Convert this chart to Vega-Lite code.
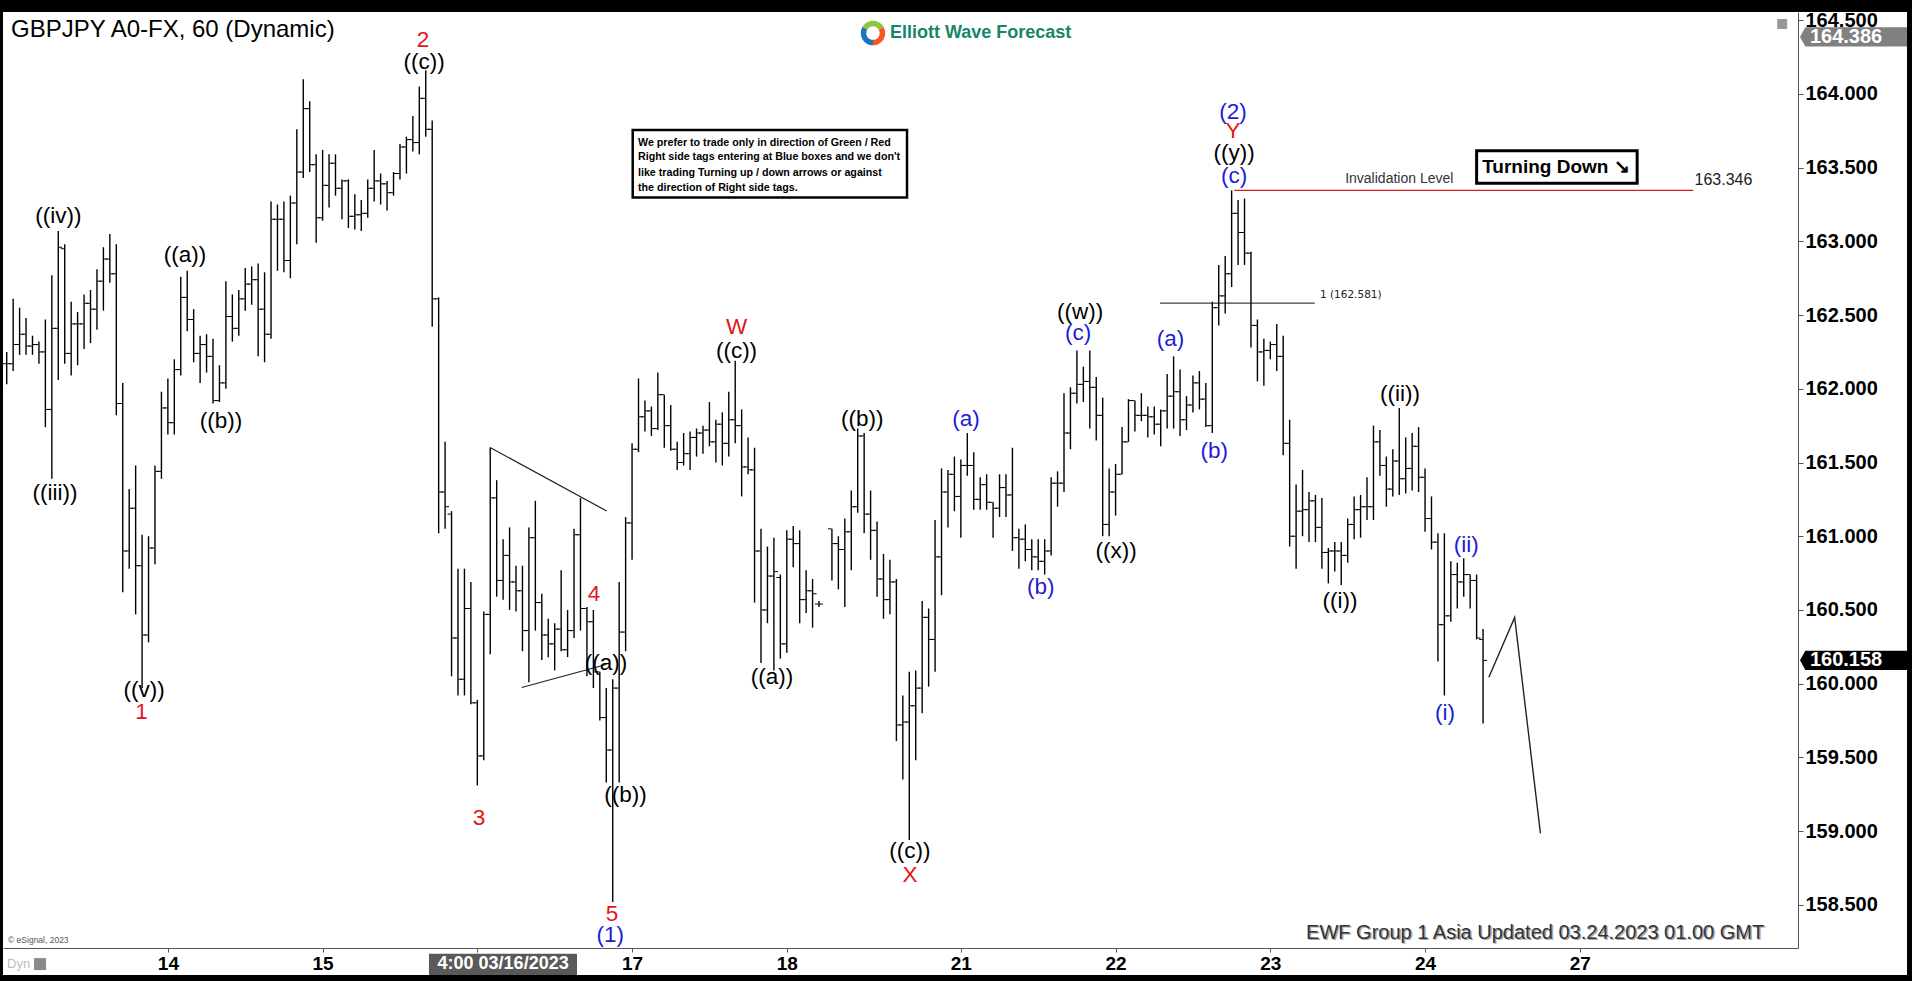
{
"$schema": "https://vega.github.io/schema/vega-lite/v6.json",
"width": 1795, "height": 936,
"autosize": {"type": "none"},
"padding": {"left": 3, "top": 12, "right": 114, "bottom": 33},
"background": "#000000",
"config": {"view": {"stroke": null}, "font": "Liberation Sans"},
"datasets": {
"bars": [
{"t":0,"o":162.17,"h":162.25,"l":162.03,"c":162.17},
{"t":1,"o":162.17,"h":162.61,"l":162.12,"c":162.30},
{"t":2,"o":162.30,"h":162.55,"l":162.23,"c":162.37},
{"t":3,"o":162.37,"h":162.48,"l":162.23,"c":162.29},
{"t":4,"o":162.29,"h":162.36,"l":162.23,"c":162.30},
{"t":5,"o":162.30,"h":162.32,"l":162.17,"c":162.25},
{"t":6,"o":162.25,"h":162.47,"l":161.74,"c":161.86},
{"t":7,"o":161.86,"h":162.77,"l":161.39,"c":162.41},
{"t":8,"o":162.41,"h":163.07,"l":162.06,"c":162.96},
{"t":9,"o":162.95,"h":162.98,"l":162.17,"c":162.24},
{"t":10,"o":162.24,"h":162.59,"l":162.09,"c":162.44},
{"t":11,"o":162.44,"h":162.52,"l":162.16,"c":162.44},
{"t":12,"o":162.44,"h":162.64,"l":162.27,"c":162.58},
{"t":13,"o":162.58,"h":162.67,"l":162.31,"c":162.54},
{"t":14,"o":162.54,"h":162.81,"l":162.40,"c":162.73},
{"t":15,"o":162.73,"h":162.96,"l":162.53,"c":162.88},
{"t":16,"o":162.88,"h":163.05,"l":162.72,"c":162.78},
{"t":17,"o":162.78,"h":162.98,"l":161.82,"c":161.90},
{"t":18,"o":161.90,"h":162.04,"l":160.62,"c":160.90},
{"t":19,"o":160.90,"h":161.32,"l":160.78,"c":161.19},
{"t":20,"o":161.19,"h":161.48,"l":160.47,"c":160.80},
{"t":21,"o":160.80,"h":161.01,"l":159.97,"c":160.33},
{"t":22,"o":160.33,"h":161.00,"l":160.28,"c":160.92},
{"t":23,"o":160.92,"h":161.48,"l":160.81,"c":161.44},
{"t":24,"o":161.44,"h":161.98,"l":161.39,"c":161.87},
{"t":25,"o":161.87,"h":162.07,"l":161.69,"c":161.77},
{"t":26,"o":161.77,"h":162.20,"l":161.69,"c":162.13},
{"t":27,"o":162.13,"h":162.76,"l":162.09,"c":162.62},
{"t":28,"o":162.62,"h":162.80,"l":162.39,"c":162.47},
{"t":29,"o":162.47,"h":162.54,"l":162.18,"c":162.24},
{"t":30,"o":162.24,"h":162.36,"l":162.04,"c":162.30},
{"t":31,"o":162.30,"h":162.37,"l":162.11,"c":162.22},
{"t":32,"o":162.22,"h":162.34,"l":161.90,"c":161.92},
{"t":33,"o":161.92,"h":162.16,"l":161.91,"c":162.04},
{"t":34,"o":162.04,"h":162.73,"l":162.00,"c":162.49},
{"t":35,"o":162.49,"h":162.64,"l":162.32,"c":162.41},
{"t":36,"o":162.41,"h":162.67,"l":162.36,"c":162.61},
{"t":37,"o":162.61,"h":162.82,"l":162.53,"c":162.71},
{"t":38,"o":162.71,"h":162.83,"l":162.57,"c":162.74},
{"t":39,"o":162.74,"h":162.85,"l":162.22,"c":162.54},
{"t":40,"o":162.54,"h":162.79,"l":162.18,"c":162.37},
{"t":41,"o":162.37,"h":163.27,"l":162.34,"c":163.15},
{"t":42,"o":163.15,"h":163.25,"l":162.80,"c":163.15},
{"t":43,"o":163.15,"h":163.27,"l":162.79,"c":162.87},
{"t":44,"o":162.87,"h":163.31,"l":162.75,"c":163.26},
{"t":45,"o":163.26,"h":163.76,"l":162.98,"c":163.47},
{"t":46,"o":163.47,"h":164.10,"l":163.43,"c":163.90},
{"t":47,"o":163.90,"h":163.95,"l":163.47,"c":163.52},
{"t":48,"o":163.52,"h":163.59,"l":162.99,"c":163.16},
{"t":49,"o":163.16,"h":163.62,"l":163.14,"c":163.38},
{"t":50,"o":163.38,"h":163.59,"l":163.23,"c":163.53},
{"t":51,"o":163.53,"h":163.59,"l":163.31,"c":163.36},
{"t":52,"o":163.36,"h":163.42,"l":163.15,"c":163.41},
{"t":53,"o":163.41,"h":163.42,"l":163.09,"c":163.17},
{"t":54,"o":163.17,"h":163.32,"l":163.08,"c":163.18},
{"t":55,"o":163.18,"h":163.28,"l":163.07,"c":163.19},
{"t":56,"o":163.19,"h":163.42,"l":163.16,"c":163.36},
{"t":57,"o":163.36,"h":163.62,"l":163.27,"c":163.41},
{"t":58,"o":163.41,"h":163.46,"l":163.25,"c":163.39},
{"t":59,"o":163.39,"h":163.41,"l":163.21,"c":163.33},
{"t":60,"o":163.33,"h":163.47,"l":163.31,"c":163.46},
{"t":61,"o":163.46,"h":163.66,"l":163.42,"c":163.64},
{"t":62,"o":163.64,"h":163.71,"l":163.46,"c":163.69},
{"t":63,"o":163.69,"h":163.85,"l":163.61,"c":163.67},
{"t":64,"o":163.67,"h":164.05,"l":163.59,"c":163.97},
{"t":65,"o":163.97,"h":164.16,"l":163.71,"c":163.76},
{"t":66,"o":163.76,"h":163.82,"l":162.42,"c":162.61},
{"t":67,"o":162.61,"h":162.62,"l":161.02,"c":161.30},
{"t":68,"o":161.30,"h":161.64,"l":161.05,"c":161.20},
{"t":69,"o":161.15,"h":161.17,"l":160.05,"c":160.31},
{"t":70,"o":160.31,"h":160.78,"l":159.92,"c":160.03},
{"t":71,"o":160.03,"h":160.78,"l":159.92,"c":160.51},
{"t":72,"o":160.51,"h":160.69,"l":159.86,"c":159.87},
{"t":73,"o":159.87,"h":159.89,"l":159.31,"c":159.51},
{"t":74,"o":159.51,"h":160.49,"l":159.48,"c":160.47},
{"t":75,"o":160.47,"h":161.60,"l":160.20,"c":161.26},
{"t":76,"o":161.26,"h":161.38,"l":160.59,"c":160.70},
{"t":77,"o":160.70,"h":160.98,"l":160.57,"c":160.87},
{"t":78,"o":160.87,"h":161.06,"l":160.50,"c":160.69},
{"t":79,"o":160.69,"h":160.80,"l":160.49,"c":160.63},
{"t":80,"o":160.63,"h":160.80,"l":160.22,"c":160.36},
{"t":81,"o":160.36,"h":161.06,"l":160.01,"c":160.99},
{"t":82,"o":160.99,"h":161.24,"l":160.36,"c":160.55},
{"t":83,"o":160.55,"h":160.61,"l":160.16,"c":160.33},
{"t":84,"o":160.33,"h":160.44,"l":160.18,"c":160.27},
{"t":85,"o":160.27,"h":160.41,"l":160.09,"c":160.37},
{"t":86,"o":160.37,"h":160.77,"l":160.22,"c":160.23},
{"t":87,"o":160.23,"h":160.50,"l":160.18,"c":160.36},
{"t":88,"o":160.36,"h":161.05,"l":160.31,"c":161.01},
{"t":89,"o":161.01,"h":161.26,"l":160.36,"c":160.51},
{"t":90,"o":160.51,"h":160.52,"l":160.05,"c":160.42},
{"t":91,"o":160.42,"h":160.50,"l":159.97,"c":160.08},
{"t":92,"o":160.08,"h":160.08,"l":159.75,"c":159.77},
{"t":93,"o":159.77,"h":159.97,"l":159.33,"c":159.55},
{"t":94,"o":159.55,"h":160.03,"l":158.52,"c":159.97},
{"t":95,"o":159.97,"h":160.69,"l":159.33,"c":160.35},
{"t":96,"o":160.35,"h":161.13,"l":160.22,"c":161.09},
{"t":97,"o":161.09,"h":161.63,"l":160.84,"c":161.59},
{"t":98,"o":161.59,"h":162.07,"l":161.57,"c":161.81},
{"t":99,"o":161.81,"h":161.92,"l":161.71,"c":161.85},
{"t":100,"o":161.85,"h":161.88,"l":161.68,"c":161.73},
{"t":101,"o":161.73,"h":162.11,"l":161.72,"c":161.96},
{"t":102,"o":161.96,"h":161.96,"l":161.60,"c":161.75},
{"t":103,"o":161.75,"h":161.89,"l":161.58,"c":161.59},
{"t":104,"o":161.59,"h":161.64,"l":161.45,"c":161.50},
{"t":105,"o":161.50,"h":161.70,"l":161.48,"c":161.56},
{"t":106,"o":161.56,"h":161.71,"l":161.45,"c":161.67},
{"t":107,"o":161.67,"h":161.73,"l":161.54,"c":161.70},
{"t":108,"o":161.70,"h":161.75,"l":161.56,"c":161.72},
{"t":109,"o":161.72,"h":161.91,"l":161.61,"c":161.64},
{"t":110,"o":161.64,"h":161.79,"l":161.50,"c":161.76},
{"t":111,"o":161.76,"h":161.84,"l":161.48,"c":161.63},
{"t":112,"o":161.63,"h":161.98,"l":161.54,"c":161.79},
{"t":113,"o":161.79,"h":162.19,"l":161.63,"c":161.75},
{"t":114,"o":161.75,"h":161.86,"l":161.27,"c":161.47},
{"t":115,"o":161.47,"h":161.67,"l":161.42,"c":161.45},
{"t":116,"o":161.45,"h":161.60,"l":160.55,"c":160.90},
{"t":117,"o":160.90,"h":161.05,"l":160.14,"c":160.50},
{"t":118,"o":160.50,"h":160.93,"l":160.41,"c":160.73},
{"t":119,"o":160.73,"h":160.99,"l":160.09,"c":160.76},
{"t":120,"o":160.72,"h":160.74,"l":160.17,"c":160.27},
{"t":121,"o":160.27,"h":161.04,"l":160.21,"c":160.98},
{"t":122,"o":160.98,"h":161.07,"l":160.79,"c":160.95},
{"t":123,"o":160.95,"h":161.04,"l":160.41,"c":160.57},
{"t":124,"o":160.57,"h":160.77,"l":160.48,"c":160.63},
{"t":125,"o":160.63,"h":160.71,"l":160.38,"c":160.61},
{"t":126,"o":160.54,"h":160.56,"l":160.52,"c":160.54},
{"t":128,"o":161.05,"h":161.05,"l":160.70,"c":160.95},
{"t":129,"o":160.95,"h":161.00,"l":160.64,"c":160.91},
{"t":130,"o":160.91,"h":161.12,"l":160.52,"c":161.03},
{"t":131,"o":161.03,"h":161.31,"l":160.77,"c":161.20},
{"t":132,"o":161.20,"h":161.73,"l":161.16,"c":161.68},
{"t":133,"o":161.68,"h":161.70,"l":161.02,"c":161.15},
{"t":134,"o":161.15,"h":161.31,"l":160.84,"c":161.04},
{"t":135,"o":161.04,"h":161.10,"l":160.59,"c":160.71},
{"t":136,"o":160.71,"h":160.88,"l":160.44,"c":160.57},
{"t":137,"o":160.57,"h":160.84,"l":160.47,"c":160.69},
{"t":138,"o":160.69,"h":160.71,"l":159.61,"c":159.72},
{"t":139,"o":159.72,"h":159.92,"l":159.35,"c":159.74},
{"t":140,"o":159.74,"h":160.08,"l":158.94,"c":159.85},
{"t":141,"o":159.85,"h":160.09,"l":159.48,"c":159.97},
{"t":142,"o":159.97,"h":160.56,"l":159.80,"c":160.45},
{"t":143,"o":160.45,"h":160.51,"l":159.98,"c":160.30},
{"t":144,"o":160.30,"h":161.11,"l":160.08,"c":160.86},
{"t":145,"o":160.86,"h":161.46,"l":160.60,"c":161.30},
{"t":146,"o":161.30,"h":161.45,"l":161.06,"c":161.42},
{"t":147,"o":161.42,"h":161.54,"l":161.17,"c":161.27},
{"t":148,"o":161.27,"h":161.52,"l":160.99,"c":161.48},
{"t":149,"o":161.48,"h":161.70,"l":161.41,"c":161.48},
{"t":150,"o":161.48,"h":161.57,"l":161.18,"c":161.25},
{"t":151,"o":161.25,"h":161.40,"l":161.18,"c":161.35},
{"t":152,"o":161.35,"h":161.42,"l":161.18,"c":161.23},
{"t":153,"o":161.23,"h":161.23,"l":160.99,"c":161.19},
{"t":154,"o":161.19,"h":161.42,"l":161.13,"c":161.33},
{"t":155,"o":161.33,"h":161.42,"l":161.13,"c":161.28},
{"t":156,"o":161.28,"h":161.60,"l":160.90,"c":160.99},
{"t":157,"o":160.99,"h":161.05,"l":160.78,"c":160.98},
{"t":158,"o":160.98,"h":161.08,"l":160.83,"c":160.91},
{"t":159,"o":160.91,"h":160.98,"l":160.77,"c":160.86},
{"t":160,"o":160.86,"h":160.98,"l":160.77,"c":160.83},
{"t":161,"o":160.83,"h":160.98,"l":160.74,"c":160.90},
{"t":162,"o":160.90,"h":161.40,"l":160.87,"c":161.36},
{"t":163,"o":161.36,"h":161.44,"l":161.20,"c":161.36},
{"t":164,"o":161.36,"h":161.97,"l":161.30,"c":161.70},
{"t":165,"o":161.70,"h":162.01,"l":161.59,"c":161.97},
{"t":166,"o":161.97,"h":162.26,"l":161.90,"c":162.03},
{"t":167,"o":162.03,"h":162.15,"l":161.91,"c":162.05},
{"t":168,"o":162.05,"h":162.26,"l":161.73,"c":162.01},
{"t":169,"o":162.01,"h":162.08,"l":161.65,"c":161.82},
{"t":170,"o":161.82,"h":161.94,"l":161.00,"c":161.08},
{"t":171,"o":161.08,"h":161.46,"l":161.00,"c":161.30},
{"t":172,"o":161.30,"h":161.49,"l":161.14,"c":161.42},
{"t":173,"o":161.42,"h":161.74,"l":161.42,"c":161.64},
{"t":174,"o":161.64,"h":161.93,"l":161.64,"c":161.92},
{"t":175,"o":161.92,"h":161.92,"l":161.71,"c":161.82},
{"t":176,"o":161.82,"h":161.97,"l":161.78,"c":161.82},
{"t":177,"o":161.82,"h":161.88,"l":161.67,"c":161.81},
{"t":178,"o":161.81,"h":161.88,"l":161.69,"c":161.76},
{"t":179,"o":161.76,"h":161.86,"l":161.61,"c":161.85},
{"t":180,"o":161.85,"h":162.10,"l":161.73,"c":161.95},
{"t":181,"o":161.95,"h":162.22,"l":161.73,"c":161.98},
{"t":182,"o":161.98,"h":162.13,"l":161.68,"c":161.79},
{"t":183,"o":161.79,"h":161.95,"l":161.72,"c":161.89},
{"t":184,"o":161.89,"h":162.09,"l":161.84,"c":162.04},
{"t":185,"o":162.04,"h":162.12,"l":161.86,"c":161.93},
{"t":186,"o":161.93,"h":162.04,"l":161.74,"c":161.75},
{"t":187,"o":161.75,"h":162.59,"l":161.70,"c":162.55},
{"t":188,"o":162.55,"h":162.84,"l":162.43,"c":162.63},
{"t":189,"o":162.63,"h":162.90,"l":162.51,"c":162.78},
{"t":190,"o":162.78,"h":163.346,"l":162.69,"c":163.19},
{"t":191,"o":163.19,"h":163.28,"l":162.84,"c":163.06},
{"t":192,"o":163.06,"h":163.29,"l":162.84,"c":162.92},
{"t":193,"o":162.92,"h":162.93,"l":162.28,"c":162.43},
{"t":194,"o":162.43,"h":162.47,"l":162.05,"c":162.25},
{"t":195,"o":162.25,"h":162.34,"l":162.02,"c":162.26},
{"t":196,"o":162.26,"h":162.32,"l":162.20,"c":162.30},
{"t":197,"o":162.30,"h":162.44,"l":162.12,"c":162.22},
{"t":198,"o":162.22,"h":162.36,"l":161.55,"c":161.63},
{"t":199,"o":161.63,"h":161.79,"l":160.93,"c":161.00},
{"t":200,"o":161.00,"h":161.35,"l":160.78,"c":161.17},
{"t":201,"o":161.17,"h":161.45,"l":161.00,"c":161.18},
{"t":202,"o":161.18,"h":161.30,"l":160.96,"c":161.24},
{"t":203,"o":161.24,"h":161.28,"l":160.96,"c":161.06},
{"t":204,"o":161.06,"h":161.26,"l":160.78,"c":160.89},
{"t":205,"o":160.89,"h":160.92,"l":160.68,"c":160.90},
{"t":206,"o":160.90,"h":160.96,"l":160.76,"c":160.90},
{"t":207,"o":160.90,"h":160.96,"l":160.67,"c":160.87},
{"t":208,"o":160.87,"h":161.12,"l":160.82,"c":161.08},
{"t":209,"o":161.08,"h":161.27,"l":160.98,"c":161.18},
{"t":210,"o":161.18,"h":161.28,"l":160.99,"c":161.20},
{"t":211,"o":161.20,"h":161.40,"l":161.11,"c":161.20},
{"t":212,"o":161.20,"h":161.75,"l":161.11,"c":161.64},
{"t":213,"o":161.64,"h":161.72,"l":161.41,"c":161.48},
{"t":214,"o":161.48,"h":161.54,"l":161.20,"c":161.32},
{"t":215,"o":161.32,"h":161.59,"l":161.27,"c":161.51},
{"t":216,"o":161.51,"h":161.87,"l":161.28,"c":161.39},
{"t":217,"o":161.39,"h":161.67,"l":161.29,"c":161.46},
{"t":218,"o":161.46,"h":161.70,"l":161.31,"c":161.61},
{"t":219,"o":161.61,"h":161.74,"l":161.30,"c":161.40},
{"t":220,"o":161.40,"h":161.46,"l":161.03,"c":161.12},
{"t":221,"o":161.12,"h":161.27,"l":160.91,"c":160.96},
{"t":222,"o":160.96,"h":161.02,"l":160.15,"c":160.40},
{"t":223,"o":160.40,"h":161.02,"l":159.92,"c":160.46},
{"t":224,"o":160.46,"h":160.83,"l":160.42,"c":160.74},
{"t":225,"o":160.74,"h":160.82,"l":160.51,"c":160.69},
{"t":226,"o":160.69,"h":160.85,"l":160.59,"c":160.74},
{"t":227,"o":160.74,"h":160.74,"l":160.51,"c":160.70},
{"t":228,"o":160.70,"h":160.74,"l":160.30,"c":160.31},
{"t":229,"o":160.30,"h":160.37,"l":159.73,"c":160.158}
],
"lblK": [
{"t":8.03,"p":163.172,"s":"((iv))"},
{"t":7.49,"p":161.293,"s":"((iii))"},
{"t":27.66,"p":162.907,"s":"((a))"},
{"t":33.24,"p":161.781,"s":"((b))"},
{"t":21.3,"p":159.957,"s":"((v))"},
{"t":64.73,"p":164.216,"s":"((c))"},
{"t":92.96,"p":160.140,"s":"((a))"},
{"t":95.98,"p":159.245,"s":"((b))"},
{"t":113.2,"p":162.256,"s":"((c))"},
{"t":118.7,"p":160.045,"s":"((a))"},
{"t":132.7,"p":161.792,"s":"((b))"},
{"t":140.1,"p":158.865,"s":"((c))"},
{"t":166.5,"p":162.521,"s":"((w))"},
{"t":172.1,"p":160.900,"s":"((x))"},
{"t":190.4,"p":163.600,"s":"((y))"},
{"t":206.8,"p":160.561,"s":"((i))"},
{"t":216.1,"p":161.965,"s":"((ii))"}
],
"lblR": [
{"t":20.91,"p":159.808,"s":"1"},
{"t":64.57,"p":164.366,"s":"2"},
{"t":73.26,"p":159.089,"s":"3"},
{"t":91.1,"p":160.608,"s":"4"},
{"t":93.9,"p":158.440,"s":"5"},
{"t":113.2,"p":162.419,"s":"W"},
{"t":140.1,"p":158.699,"s":"X"},
{"t":190.2,"p":163.748,"s":"Y"}
],
"lblB": [
{"t":93.6,"p":158.298,"s":"(1)"},
{"t":148.8,"p":161.792,"s":"(a)"},
{"t":160.4,"p":160.659,"s":"(b)"},
{"t":166.2,"p":162.378,"s":"(c)"},
{"t":180.5,"p":162.338,"s":"(a)"},
{"t":187.3,"p":161.578,"s":"(b)"},
{"t":190.4,"p":163.446,"s":"(c)"},
{"t":190.2,"p":163.880,"s":"(2)"},
{"t":226.4,"p":160.940,"s":"(ii)"},
{"t":223.1,"p":159.801,"s":"(i)"}
],
"tri": [
{"g":"upper","t":74.97,"p":161.602},
{"g":"upper","t":93.07,"p":161.171},
{"g":"lower","t":79.88,"p":159.974},
{"g":"lower","t":93.0,"p":160.13}
],
"proj": [
{"t":229.9,"p":160.044},
{"t":233.9,"p":160.449},
{"t":237.9,"p":158.985}
],
"frame": [{"t":-0.574,"t2":294.76,"p":164.5555,"p2":158.024}],
"noticeBox": [{"t":97.10,"t2":139.65,"p":163.755,"p2":163.297}],
"turnBox": [{"t":228.0,"t2":252.9,"p":163.615,"p2":163.394}],
"crossBox": [{"t":65.5,"t2":88.46,"p":158.169,"p2":158.024}],
"fib": [{"t":178.9,"t2":202.9,"p":162.581}],
"fibText": [{"t":203.7,"p":162.636,"s":"1 (162.581)"}],
"inval": [{"t":190.4,"t2":261.6,"p":163.346}],
"invalText": [{"t":216.0,"p":163.421,"s":"Invalidation Level"}],
"invalValue": [{"t":261.8,"p":163.416,"s":"163.346"}],
"notice": [
{"t":97.92,"p":163.669,"s":"We prefer to trade only in direction of Green / Red"},
{"t":97.92,"p":163.570,"s":"Right side tags entering at Blue boxes and we don't"},
{"t":97.92,"p":163.466,"s":"like trading Turning up / down arrows or against"},
{"t":97.92,"p":163.364,"s":"the direction of Right side tags."}
],
"turn": [{"t":240.3,"p":163.506,"s":"Turning Down ↘"}],
"logo": [{"t":134.37,"p":164.413}],
"logoText": [{"t":137.0,"p":164.413,"s":"Elliott Wave Forecast"}],
"title": [{"t":0.67,"p":164.433,"s":"GBPJPY A0-FX, 60 (Dynamic)"}],
"priceHigh": [{"t":286.46,"p":164.386}],
"priceLast": [{"t":286.46,"p":160.158}],
"priceTexts": [{"t":279.7,"p":164.386,"s":"164.386"},{"t":279.7,"p":160.158,"s":"160.158"}],
"cross": [{"t":77.0,"p":158.099,"s":"4:00 03/16/2023"}],
"footer": [{"t":272.6,"p":158.309,"s":"EWF Group 1 Asia Updated 03.24.2023 01.00 GMT"}],
"esig": [{"t":0.2,"p":158.262,"s":"© eSignal, 2023"}],
"dyn": [{"t":0.05,"p":158.098,"s":"Dyn"}],
"dynIcon": [{"t":5.17,"p":158.098}],
"cornerIcon": [{"t":275.4,"p":164.474}]
},
"encoding": {
"x": {"field": "t", "type": "quantitative", "scale": {"domain": [-0.574, 277.85], "nice": false, "zero": false},
 "axis": {"orient": "bottom", "title": null, "grid": false, "values": [25,49,73,97,121,148,172,196,220,244],
  "labelExpr": "datum.value==25?'14':datum.value==49?'15':datum.value==97?'17':datum.value==121?'18':datum.value==148?'21':datum.value==172?'22':datum.value==196?'23':datum.value==220?'24':datum.value==244?'27':''",
  "labelFont": "Liberation Sans", "labelFontWeight": "bold", "labelFontSize": 19, "labelColor": "#000000",
  "labelPadding": 2, "tickSize": 4, "tickColor": "#555555", "domainColor": "#555555", "labelOverlap": false, "labelBound": false, "labelFlush": false, "zindex": 1}},
"y": {"field": "p", "type": "quantitative", "scale": {"domain": [158.2072, 164.5555], "nice": false, "zero": false},
 "axis": {"orient": "right", "title": null, "grid": false, "values": [158.5,159,159.5,160,160.5,161,161.5,162,162.5,163,163.5,164,164.5],
  "format": ".3f", "labelFont": "Liberation Sans", "labelFontWeight": "bold", "labelFontSize": 20, "labelColor": "#000000",
  "labelPadding": 2, "tickSize": 5, "tickColor": "#555555", "domainColor": "#555555", "labelOverlap": false, "labelBound": false, "labelFlush": false, "zindex": 1}}
},
"layer": [
{"data": {"name": "frame"}, "mark": {"type": "rect", "fill": "#ffffff"},
 "encoding": {"x2": {"field": "t2"}, "y2": {"field": "p2"}}},
{"data": {"name": "tri"}, "mark": {"type": "line", "color": "#222222", "strokeWidth": 1.2},
 "encoding": {"detail": {"field": "g"}}},
{"data": {"name": "proj"}, "mark": {"type": "line", "color": "#222222", "strokeWidth": 1.4}, "encoding": {}},
{"data": {"name": "fib"}, "mark": {"type": "rule", "color": "#111111", "strokeWidth": 1},
 "encoding": {"x2": {"field": "t2"}}},
{"data": {"name": "inval"}, "mark": {"type": "rule", "color": "#d81e1e", "strokeWidth": 1.2},
 "encoding": {"x2": {"field": "t2"}}},
{"data": {"name": "bars"}, "mark": {"type": "rule", "color": "#000000", "strokeWidth": 1.4},
 "encoding": {"y": {"field": "l", "type": "quantitative"}, "y2": {"field": "h"}}},
{"data": {"name": "bars"}, "mark": {"type": "tick", "orient": "horizontal", "color": "#000000", "size": 3.6, "thickness": 1, "xOffset": -2.2, "opacity": 1},
 "encoding": {"y": {"field": "o", "type": "quantitative"}}},
{"data": {"name": "bars"}, "mark": {"type": "tick", "orient": "horizontal", "color": "#000000", "size": 3.6, "thickness": 1, "xOffset": 2.2, "opacity": 1},
 "encoding": {"y": {"field": "c", "type": "quantitative"}}},
{"data": {"name": "lblK"}, "mark": {"type": "text", "font": "Liberation Sans", "fontSize": 22.5, "color": "#000000", "align": "center", "baseline": "middle"},
 "encoding": {"text": {"field": "s"}}},
{"data": {"name": "lblR"}, "mark": {"type": "text", "font": "Liberation Sans", "fontSize": 22.5, "color": "#e3141c", "align": "center", "baseline": "middle"},
 "encoding": {"text": {"field": "s"}}},
{"data": {"name": "lblB"}, "mark": {"type": "text", "font": "Liberation Sans", "fontSize": 22.5, "color": "#1c1cd6", "align": "center", "baseline": "middle"},
 "encoding": {"text": {"field": "s"}}},
{"data": {"name": "fibText"}, "mark": {"type": "text", "font": "DejaVu Sans", "fontSize": 10.5, "color": "#222222", "align": "left", "baseline": "middle"},
 "encoding": {"text": {"field": "s"}}},
{"data": {"name": "invalText"}, "mark": {"type": "text", "font": "Liberation Sans", "fontSize": 14, "color": "#333333", "align": "center", "baseline": "middle"},
 "encoding": {"text": {"field": "s"}}},
{"data": {"name": "invalValue"}, "mark": {"type": "text", "font": "Liberation Sans", "fontSize": 16, "color": "#222222", "align": "left", "baseline": "middle"},
 "encoding": {"text": {"field": "s"}}},
{"data": {"name": "noticeBox"}, "mark": {"type": "rect", "fill": "#ffffff", "stroke": "#000000", "strokeWidth": 2.5},
 "encoding": {"x2": {"field": "t2"}, "y2": {"field": "p2"}}},
{"data": {"name": "notice"}, "mark": {"type": "text", "font": "Liberation Sans", "fontWeight": "bold", "fontSize": 10.7, "color": "#000000", "align": "left", "baseline": "middle"},
 "encoding": {"text": {"field": "s"}}},
{"data": {"name": "turnBox"}, "mark": {"type": "rect", "fill": "#ffffff", "stroke": "#000000", "strokeWidth": 3},
 "encoding": {"x2": {"field": "t2"}, "y2": {"field": "p2"}}},
{"data": {"name": "turn"}, "mark": {"type": "text", "font": "Liberation Sans", "fontWeight": "bold", "fontSize": 19, "color": "#000000", "align": "center", "baseline": "middle"},
 "encoding": {"text": {"field": "s"}}},
{"data": {"name": "logo"}, "mark": {"type": "point", "shape": "M -0.866 -0.5 A 1 1 0 0 1 0.866 -0.5 L 0.476 -0.275 A 0.55 0.55 0 0 0 -0.476 -0.275 Z", "filled": true, "size": 600, "color": "#8dc63f", "opacity": 1}, "encoding": {}},
{"data": {"name": "logo"}, "mark": {"type": "point", "shape": "M 0.866 -0.5 A 1 1 0 0 1 0 1 L 0 0.55 A 0.55 0.55 0 0 0 0.476 -0.275 Z", "filled": true, "size": 600, "color": "#f15a24", "opacity": 1}, "encoding": {}},
{"data": {"name": "logo"}, "mark": {"type": "point", "shape": "M 0 1 A 1 1 0 0 1 -0.866 -0.5 L -0.476 -0.275 A 0.55 0.55 0 0 0 0 0.55 Z", "filled": true, "size": 600, "color": "#1c75bc", "opacity": 1}, "encoding": {}},
{"data": {"name": "logoText"}, "mark": {"type": "text", "font": "Liberation Sans", "fontWeight": "bold", "fontSize": 18, "color": "#16866a", "align": "left", "baseline": "middle"},
 "encoding": {"text": {"field": "s"}}},
{"data": {"name": "title"}, "mark": {"type": "text", "font": "Liberation Sans", "fontSize": 24, "color": "#000000", "align": "left", "baseline": "middle"},
 "encoding": {"text": {"field": "s"}}},
{"data": {"name": "priceHigh"}, "mark": {"type": "point", "shape": "M -1 0 L -0.9 -0.18 L 1 -0.18 L 1 0.18 L -0.9 0.18 Z", "filled": true, "size": 11449, "color": "#808080", "opacity": 1}, "encoding": {}},
{"data": {"name": "priceLast"}, "mark": {"type": "point", "shape": "M -1 0 L -0.9 -0.18 L 1 -0.18 L 1 0.18 L -0.9 0.18 Z", "filled": true, "size": 11449, "color": "#000000", "opacity": 1}, "encoding": {}},
{"data": {"name": "priceTexts"}, "mark": {"type": "text", "font": "Liberation Sans", "fontWeight": "bold", "fontSize": 20, "color": "#ffffff", "align": "left", "baseline": "middle"},
 "encoding": {"text": {"field": "s"}}},
{"data": {"name": "crossBox"}, "mark": {"type": "rect", "fill": "#595959"},
 "encoding": {"x2": {"field": "t2"}, "y2": {"field": "p2"}}},
{"data": {"name": "cross"}, "mark": {"type": "text", "font": "Liberation Sans", "fontWeight": "bold", "fontSize": 18, "color": "#ffffff", "align": "center", "baseline": "middle"},
 "encoding": {"text": {"field": "s"}}},
{"data": {"name": "footer"}, "mark": {"type": "text", "font": "Liberation Sans", "fontSize": 20, "color": "#a8a8a8", "align": "right", "baseline": "middle", "dx": 1.5, "dy": 1.5},
 "encoding": {"text": {"field": "s"}}},
{"data": {"name": "footer"}, "mark": {"type": "text", "font": "Liberation Sans", "fontSize": 20, "color": "#333333", "align": "right", "baseline": "middle"},
 "encoding": {"text": {"field": "s"}}},
{"data": {"name": "esig"}, "mark": {"type": "text", "font": "Liberation Sans", "fontSize": 8.5, "color": "#555555", "align": "left", "baseline": "middle"},
 "encoding": {"text": {"field": "s"}}},
{"data": {"name": "dyn"}, "mark": {"type": "text", "font": "Liberation Sans", "fontSize": 13, "color": "#bbbbbb", "align": "left", "baseline": "middle"},
 "encoding": {"text": {"field": "s"}}},
{"data": {"name": "dynIcon"}, "mark": {"type": "square", "size": 144, "color": "#8a8a8a", "opacity": 1, "filled": true}, "encoding": {}},
{"data": {"name": "cornerIcon"}, "mark": {"type": "square", "size": 100, "color": "#999999", "opacity": 1, "filled": true}, "encoding": {}}
]
}
